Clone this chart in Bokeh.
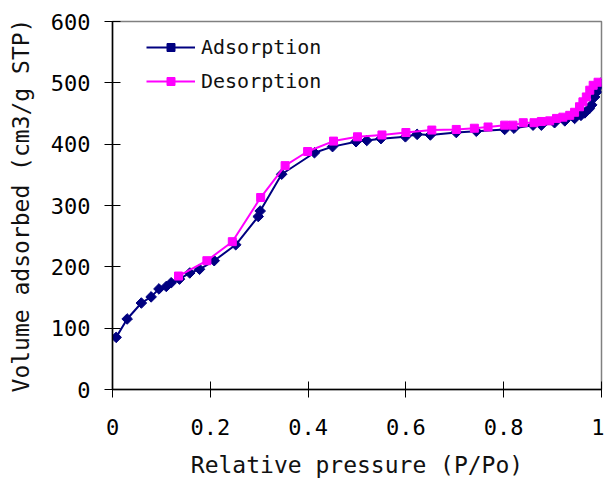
from bokeh.plotting import figure
from bokeh.models import FixedTicker, Legend, LegendItem, Range1d
from bokeh.embed import file_html
from bokeh.resources import INLINE

ads_x = [0.0075, 0.030, 0.059, 0.079, 0.095, 0.110, 0.120, 0.137, 0.158, 0.178,
         0.208, 0.252, 0.298, 0.302, 0.346, 0.413, 0.450, 0.498, 0.520, 0.549,
         0.599, 0.623, 0.650, 0.703, 0.744, 0.802, 0.821, 0.860, 0.877, 0.904,
         0.925, 0.945, 0.958, 0.966, 0.975, 0.980, 0.986, 0.990, 0.993, 0.998]
ads_y = [85, 115, 141, 151, 164, 168, 174, 180, 190, 196,
         210, 236, 282, 291, 351, 386, 396, 404, 406, 409,
         412, 416, 415, 419, 421, 424, 426, 431, 431, 435,
         438, 442, 447, 451, 458, 464, 477, 485, 493, 499]

des_x = [0.993, 0.983, 0.976, 0.969, 0.962, 0.955, 0.945, 0.935, 0.921, 0.908,
         0.894, 0.877, 0.862, 0.840, 0.819, 0.802, 0.768, 0.740, 0.703, 0.653,
         0.600, 0.551, 0.501, 0.452, 0.399, 0.353, 0.303, 0.245, 0.193, 0.135]
des_y = [501, 496, 488, 477, 469, 461, 452, 447, 444, 442,
         438, 437, 435, 435, 431, 431, 428, 426, 424, 423,
         419, 415, 412, 405, 388, 365, 313, 241, 210, 185]

x_ticks = [0, 0.2, 0.4, 0.6, 0.8, 1.0]
x_tick_labels = ["0", "0.2", "0.4", "0.6", "0.8", "1"]
y_ticks = [0, 100, 200, 300, 400, 500, 600]

FONT = "DejaVu Sans Mono"
NAVY = "#000080"
MAGENTA = "#FF00FF"

p = figure(width=604, height=480, output_backend="svg", toolbar_location=None,
           x_range=Range1d(0, 1), y_range=Range1d(0, 600),
           min_border_left=112, min_border_right=3, min_border_top=21,
           min_border_bottom=90)
p.grid.visible = False
p.background_fill_color = "white"
p.border_fill_color = "white"
p.outline_line_color = "#808080"
p.outline_line_width = 1.5

for ax in (p.xaxis[0], p.yaxis[0]):
    ax.axis_line_color = "black"
    ax.axis_line_width = 1.5
    ax.major_tick_line_color = "black"
    ax.major_tick_line_width = 1
    ax.major_tick_in = 8
    ax.major_tick_out = 8
    ax.minor_tick_line_color = None
    ax.major_label_text_font = FONT
    ax.major_label_text_font_size = "22px"
    ax.major_label_text_color = "black"
    ax.axis_label_text_font = FONT
    ax.axis_label_text_font_size = "23px"
    ax.axis_label_text_font_style = "normal"
    ax.axis_label_text_color = "#111111"

p.xaxis.ticker = FixedTicker(ticks=x_ticks)
p.xaxis.major_label_overrides = {t: l for t, l in zip(x_ticks, x_tick_labels)}
p.yaxis.ticker = FixedTicker(ticks=y_ticks)
p.xaxis.axis_label = "Relative pressure (P/Po)"
p.yaxis.axis_label = "Volume adsorbed (cm3/g STP)"
p.xaxis.major_label_standoff = 21
p.yaxis.major_label_standoff = 14
p.xaxis.axis_label_standoff = 14
p.yaxis.axis_label_standoff = 14

l1 = p.line(ads_x, ads_y, line_color=NAVY, line_width=2)
m1 = p.scatter(ads_x, ads_y, marker="square", angle=0.785398, size=7.5,
               fill_color=NAVY, line_color=NAVY)
l2 = p.line(des_x, des_y, line_color=MAGENTA, line_width=2)
m2 = p.scatter(des_x, des_y, marker="square", size=8, fill_color=MAGENTA, line_color=MAGENTA)

legend = Legend(items=[LegendItem(label="Adsorption", renderers=[l1, m1]),
                       LegendItem(label="Desorption", renderers=[l2, m2])],
                location=(34, 296), padding=0, margin=0, spacing=10,
                glyph_width=49, glyph_height=20, label_height=20,
                label_standoff=6, border_line_color=None,
                background_fill_alpha=0,
                label_text_font=FONT, label_text_font_size="20px",
                label_text_color="#111111")
p.add_layout(legend)

open("out.html", "w").write(file_html(p, INLINE))
